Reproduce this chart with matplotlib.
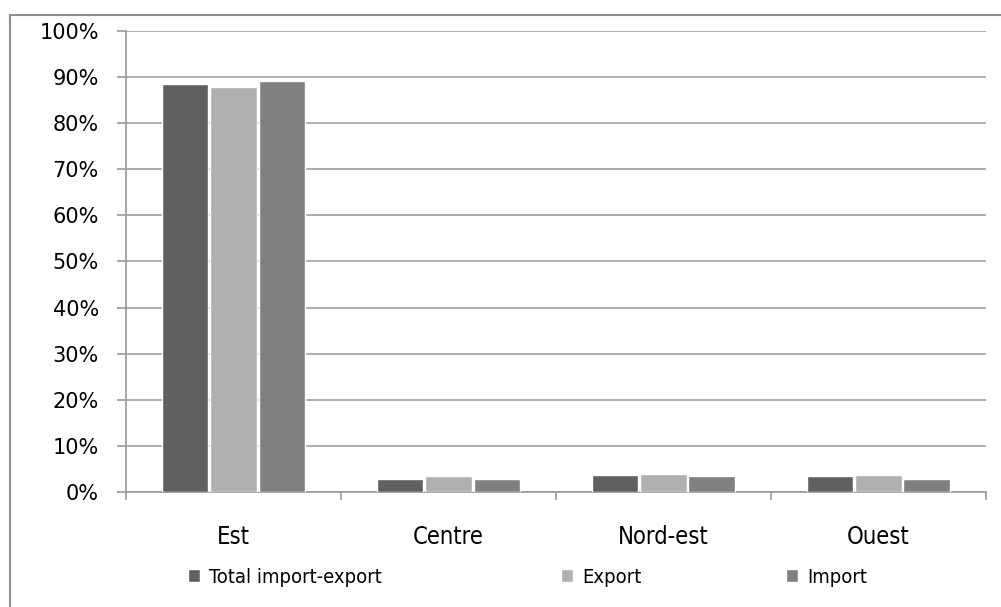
import numpy as np
import matplotlib.pyplot as plt
from matplotlib.patches import Rectangle
from matplotlib.ticker import PercentFormatter

plt.rcParams['font.family'] = ['DejaVu Sans']

regions = ["Est", "Centre", "Nord-est", "Ouest"]
total = [88.5, 2.8, 3.7, 3.5]
export = [87.9, 3.5, 3.9, 3.7]
importv = [89.2, 2.8, 3.5, 2.8]
series = ["Total import-export", "Export", "Import"]
colors = ["#606060", "#b0b0b0", "#808080"]

fig = plt.figure(figsize=(10.01, 6.07), dpi=100)
ax = fig.add_axes([0.1259, 0.1895, 0.859, 0.7595])

x = np.arange(len(regions))
w = 0.215
bars = []
for i, (vals, c) in enumerate(zip([total, export, importv], colors)):
    b = ax.bar(x + (i - 1) * 0.224, vals, w, color=c, edgecolor="white",
               linewidth=1.0, zorder=3)
    bars.append(b)

ax.set_xlim(-0.5, 3.5)
ax.set_ylim(0, 100)
ax.set_yticks(np.arange(0, 101, 10))
ax.yaxis.set_major_formatter(PercentFormatter(decimals=0))
ax.set_xticks(x)
ax.set_xticklabels(regions, fontstretch="condensed", fontsize=17)
ax.set_xticks(np.arange(-0.5, 4, 1), minor=True)
ax.tick_params(axis="x", which="major", length=0, pad=24)
ax.tick_params(axis="x", which="minor", length=6, color="#999999", width=1.2)
ax.tick_params(axis="y", length=6.5, color="#999999", width=1.2, labelsize=15, pad=13)
ax.grid(axis="y", color="#999999", linewidth=1.1, zorder=0)
for s in ["top", "right"]:
    ax.spines[s].set_visible(False)
for s in ["left", "bottom"]:
    ax.spines[s].set_color("#999999")
    ax.spines[s].set_linewidth(1.2)

# legend entries, one per series, spaced like the original
legend_x = [188 / 1001, 561 / 1001, 786 / 1001]
for b, name, lx in zip(bars, series, legend_x):
    leg = fig.legend([b], [name], loc="center left", bbox_to_anchor=(lx, 0.049),
                     frameon=False, borderpad=0, borderaxespad=0,
                     handlelength=0.6, handleheight=0.6, handletextpad=0.45,
                     prop={"size": 14.5, "stretch": "condensed"})

fig.patches.append(Rectangle((10 / 1001, -0.05), 1.2, (607 - 15) / 607 + 0.05,
                             transform=fig.transFigure, fill=False,
                             edgecolor="#8c8c8c", linewidth=1.5))

fig.savefig("out.png", dpi=100)
